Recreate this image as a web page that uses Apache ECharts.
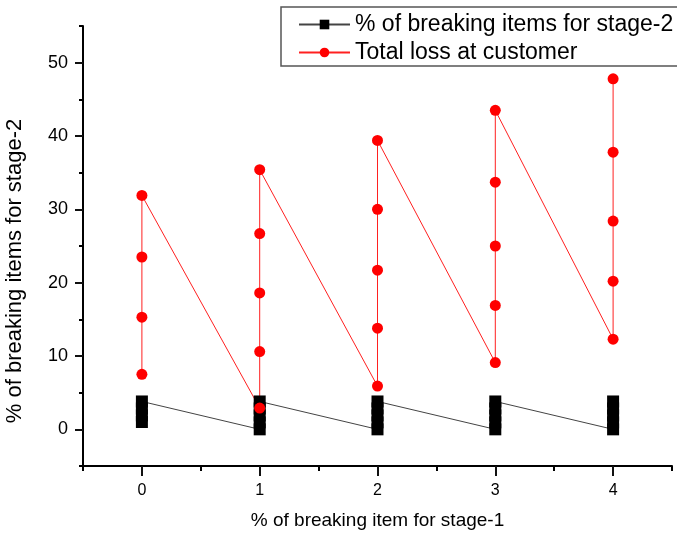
<!DOCTYPE html>
<html>
<head>
<meta charset="utf-8">
<script src="https://cdn.jsdelivr.net/npm/echarts@6/dist/echarts.min.js"></script>
<style>
  html, body { margin: 0; padding: 0; background: #fff; }
  #chartWrap { width: 677px; height: 536px; }
</style>
</head>
<body>
<div id="chartWrap"></div>
<script>
// x positions (% of breaking item for stage-1)
var stageOne = [0, 1, 2, 3, 4];
// % of breaking items for stage-2, one list per x
var stageTwo = [
  [1.0, 1.9, 2.85, 3.8],
  [0, 0.95, 1.9, 2.85, 3.8],
  [0, 0.95, 1.9, 2.85, 3.8],
  [0, 0.95, 1.9, 2.85, 3.8],
  [0, 0.95, 1.9, 2.85, 3.8]
];
// total loss at customer, one list per x
var customerLoss = [
  [7.5, 15.3, 23.5, 31.9],
  [2.9, 10.6, 18.6, 26.7, 35.4],
  [5.9, 13.8, 21.7, 30.0, 39.4],
  [9.1, 16.9, 25.0, 33.7, 43.5],
  [12.3, 20.2, 28.4, 37.8, 47.8]
];
var xTicks = [0, 1, 2, 3, 4];
var xMinorTicks = [-0.5, 0.5, 1.5, 2.5, 3.5, 4.5];
var yTicks = [0, 10, 20, 30, 40, 50];
var yMinorTicks = [-5, 5, 15, 25, 35, 45, 55];

// 展开为 [x, y] 点
function toPoints(groups) {
  var pts = [];
  for (var i = 0; i < groups.length; i++) {
    for (var j = 0; j < groups[i].length; j++) {
      pts.push([stageOne[i], groups[i][j]]);
    }
  }
  return pts;
}

var FONT = 'Liberation Sans';

// 只画刻度的辅助轴
function tickAxis(min, max, pos, values, len, color) {
  return {
    type: 'value', min: min, max: max, position: pos,
    axisLine: { show: false, onZero: false },
    splitLine: { show: false },
    axisLabel: { show: false },
    axisTick: { show: true, inside: false, customValues: values, length: len, lineStyle: { color: color, width: 2 } }
  };
}

var myChart = echarts.init(document.getElementById('chartWrap'));
myChart.setOption({
  animation: false,
  backgroundColor: '#fff',
  grid: { left: 83, right: 5, top: 26, bottom: 70, outerBoundsMode: 'none', containLabel: false },
  legend: {
    orient: 'vertical', left: 281, top: 7,
    padding: [6, 40, 2, 17], itemGap: 5, itemWidth: 51, itemHeight: 12,
    borderColor: '#555', borderWidth: 1.5,
    textStyle: { fontFamily: FONT, fontSize: 23, color: '#000', lineHeight: 22 },
    data: ['% of breaking items for stage-2', 'Total loss at customer']
  },
  xAxis: [
    {
      type: 'value', min: -0.5, max: 4.5,
      name: '% of breaking item for stage-1',
      nameLocation: 'middle', nameGap: 45,
      nameTextStyle: { fontFamily: FONT, fontSize: 19, color: '#000' },
      axisLine: { show: true, onZero: false, lineStyle: { color: '#000', width: 2 } },
      splitLine: { show: false },
      axisTick: { show: false },
      axisLabel: { customValues: xTicks, fontFamily: FONT, fontSize: 16, color: '#000', margin: 17 }
    },
    tickAxis(-0.5, 4.5, 'bottom', xTicks, 10, '#111'),
    tickAxis(-0.5, 4.5, 'bottom', xMinorTicks, 5, '#000')
  ],
  yAxis: [
    {
      type: 'value', min: -5, max: 55,
      name: '% of breaking items for stage-2',
      nameLocation: 'middle', nameGap: 57,
      nameTextStyle: { fontFamily: FONT, fontSize: 22, color: '#000', padding: [0, 50, 0, 0] },
      axisLine: { show: true, onZero: false, lineStyle: { color: '#000', width: 2 } },
      splitLine: { show: false },
      axisTick: { show: false },
      axisLabel: { customValues: yTicks, fontFamily: FONT, fontSize: 18, color: '#000', margin: 15 }
    },
    tickAxis(-5, 55, 'left', yTicks, 8, '#111'),
    tickAxis(-5, 55, 'left', yMinorTicks, 4, '#000')
  ],
  series: [
    {
      name: '% of breaking items for stage-2', type: 'line',
      data: toPoints(stageTwo), symbol: 'rect', symbolSize: 12, color: '#000',
      lineStyle: { color: '#444', width: 1 }, itemStyle: { color: '#000' }, clip: false
    },
    {
      name: 'Total loss at customer', type: 'line',
      data: toPoints(customerLoss), symbol: 'circle', symbolSize: 11, color: '#ff0000',
      lineStyle: { color: '#ff2020', width: 1 }, itemStyle: { color: '#ff0000' }, clip: false
    }
  ]
});
</script>
</body>
</html>
